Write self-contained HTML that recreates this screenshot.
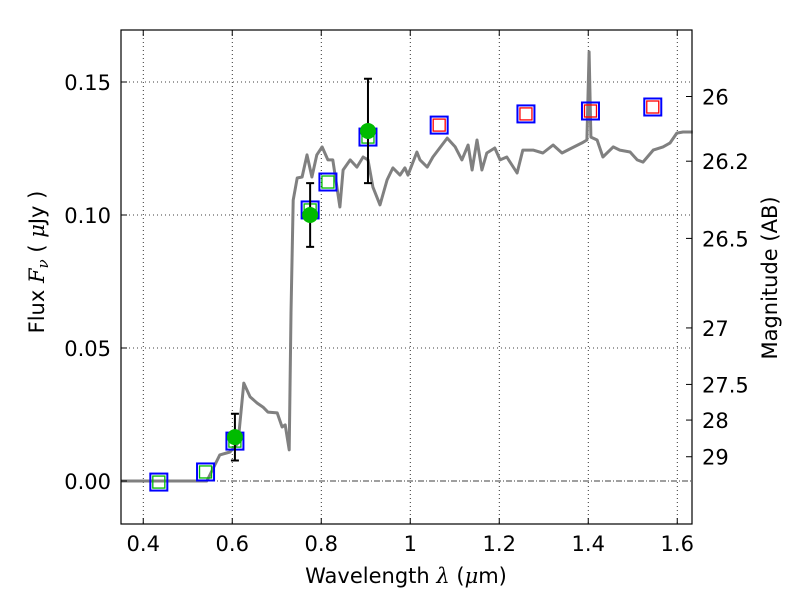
<!DOCTYPE html>
<html><head><meta charset="utf-8"><style>
html,body{margin:0;padding:0;background:#fff;overflow:hidden;width:800px;height:600px;}
svg{display:block;}
svg text{font-family:"DejaVu Sans","Liberation Sans",sans-serif;}
</style></head><body>
<svg id="chart" width="800" height="600" viewBox="0 0 800 600" xmlns="http://www.w3.org/2000/svg">
<rect x="0" y="0" width="800" height="600" fill="#fff"/>
<g id="grid"></g>
<g id="spec"></g>
<g id="phot"></g>
<g id="axes"></g>
<text x="406" y="583" font-size="21" text-anchor="middle">Wavelength  <tspan font-style="italic" font-family="DejaVu Serif, serif">λ</tspan> (<tspan font-style="italic" font-family="DejaVu Serif, serif">μ</tspan>m)</text>
<text transform="translate(44,262) rotate(-90)" font-size="21" text-anchor="middle">Flux  <tspan font-style="italic" font-family="DejaVu Serif, serif">F<tspan font-size="15" dy="4">ν</tspan></tspan><tspan dy="-4">  (  </tspan><tspan font-style="italic" font-family="DejaVu Serif, serif">μ</tspan>Jy )</text>
<text transform="translate(777,278) rotate(-90)" font-size="21" text-anchor="middle">Magnitude (AB)</text>
</svg>
<script>
const specLambda=[0.35,0.543,0.572,0.595,0.613,0.626,0.640,0.656,0.669,0.680,0.701,0.712,0.719,0.728,0.732,0.737,0.746,0.757,0.768,0.779,0.790,0.802,0.815,0.826,0.842,0.849,0.865,0.880,0.894,0.905,0.916,0.932,0.948,0.961,0.977,0.988,0.995,1.015,1.022,1.038,1.051,1.083,1.101,1.116,1.130,1.139,1.150,1.161,1.172,1.190,1.202,1.217,1.240,1.253,1.276,1.298,1.321,1.341,1.363,1.386,1.397,1.402,1.406,1.420,1.433,1.456,1.471,1.494,1.510,1.523,1.546,1.568,1.584,1.599,1.613,1.635];
const specFlux=[0,0,0.0098,0.0109,0.0143,0.0368,0.0316,0.0293,0.0278,0.0259,0.0256,0.0203,0.0211,0.0117,0.0632,0.1056,0.1139,0.1143,0.1226,0.1143,0.1226,0.1256,0.1207,0.1207,0.1030,0.1169,0.1207,0.1180,0.1218,0.1207,0.1105,0.1038,0.1132,0.1177,0.1150,0.1177,0.1150,0.1237,0.1207,0.1180,0.1218,0.1289,0.1256,0.1207,0.1263,0.1169,0.1282,0.1169,0.1233,0.1252,0.1207,0.1218,0.1158,0.1244,0.1244,0.1233,0.1263,0.1233,0.1252,0.1271,0.1282,0.1613,0.1293,0.1282,0.1218,0.1256,0.1244,0.1237,0.1207,0.1199,0.1244,0.1256,0.1271,0.1308,0.1312,0.1312];
const bandLambda=[0.435,0.54,0.606,0.775,0.815,0.905,1.065,1.26,1.405,1.545];
const modelFlux=[-0.0004,0.0034,0.0150,0.1019,0.1124,0.1293,0.1338,0.1380,0.1391,0.1406];
const modelObserved=[true,true,true,true,true,true,false,false,false,false];
const obsLambda=[0.606,0.775,0.905];
const obsFlux=[0.0165,0.100,0.1316];
const obsErr=[0.0088,0.012,0.0196];
const xTicks=[0.4,0.6,0.8,1.0,1.2,1.4,1.6];
const xTickLabels=["0.4","0.6","0.8","1","1.2","1.4","1.6"];
const yTicks=[0,0.05,0.10,0.15];
const yTickLabels=["0.00","0.05","0.10","0.15"];
const magTicks=[26,26.2,26.5,27,27.5,28,29];
const magTickLabels=["26","26.2","26.5","27","27.5","28","29"];

const L=121,R=692,T=30,B=524;
const xMin=0.35,xMax=0.35+(R-L)/445,yMin=-43/2660,yMax=(481-T)/2660;
const X=v=>L+(v-xMin)/(xMax-xMin)*(R-L);
const Y=v=>B-(v-yMin)/(yMax-yMin)*(B-T);
const NS="http://www.w3.org/2000/svg";
function mk(tag,attrs,parent){const e=document.createElementNS(NS,tag);for(const k in attrs)e.setAttribute(k,attrs[k]);parent.appendChild(e);return e;}
const grid=document.getElementById('grid'),spec=document.getElementById('spec'),phot=document.getElementById('phot'),axes=document.getElementById('axes');

xTicks.forEach((t,i)=>{const l=mk('line',{x1:X(t),x2:X(t),y1:T,y2:B,stroke:'#000','stroke-width':0.8,'stroke-dasharray':'1,3'},grid);

});
yTicks.forEach((t,i)=>{const l=mk('line',{x1:L,x2:R,y1:Y(t),y2:Y(t),stroke:'#000','stroke-width':0.8,'stroke-dasharray':t===0?'6,2,1,2':'1,3'},grid);

});

const d=specLambda.map((v,i)=>(i?'L':'M')+X(v).toFixed(1)+','+Y(specFlux[i]).toFixed(1)).join(' ');
const sp=mk('path',{d:d,fill:'none',stroke:'#808080','stroke-width':3,'stroke-linejoin':'round'},spec);



bandLambda.forEach((v,i)=>{const cx=X(v),cy=Y(modelFlux[i]);
const o=mk('rect',{x:cx-8.5,y:cy-8.5,width:17,height:17,fill:'none',stroke:'#0000ff','stroke-width':2},phot);


const n=mk('rect',{x:cx-6,y:cy-6,width:12,height:12,fill:'none',stroke:modelObserved[i]?'#00bb00':'#ff0000','stroke-width':1.3},phot);

});

obsLambda.forEach((v,i)=>{const cx=X(v),y1=Y(obsFlux[i]+obsErr[i]),y2=Y(obsFlux[i]-obsErr[i]);
const eb=mk('path',{d:`M${cx},${y1}L${cx},${y2}M${cx-4},${y1}L${cx+4},${y1}M${cx-4},${y2}L${cx+4},${y2}`,stroke:'#000','stroke-width':2,fill:'none'},phot);


const c=mk('circle',{cx:cx,cy:Y(obsFlux[i]),r:8,fill:'#00bb00'},phot);

});

const fr=mk('rect',{x:L,y:T,width:R-L,height:B-T,fill:'none',stroke:'#000','stroke-width':1.2},axes);


xTicks.forEach((t,i)=>{const x=X(t);
mk('line',{x1:x,x2:x,y1:B,y2:B-6,stroke:'#000'},axes);mk('line',{x1:x,x2:x,y1:T,y2:T+6,stroke:'#000'},axes);
const tx=mk('text',{x:x,y:B+27,'font-size':21,'text-anchor':'middle'},axes);tx.textContent=xTickLabels[i];

});
yTicks.forEach((t,i)=>{const y=Y(t);
mk('line',{x1:L,x2:L+6,y1:y,y2:y,stroke:'#000'},axes);
const tx=mk('text',{x:L-10,y:y+8,'font-size':21,'text-anchor':'end'},axes);tx.textContent=yTickLabels[i];

});
magTicks.forEach((m,i)=>{const y=Y(Math.pow(10,-0.4*(m-23.9)));
mk('line',{x1:R,x2:R-6,y1:y,y2:y,stroke:'#000'},axes);
const tx=mk('text',{x:R+10,y:y+8,'font-size':21},axes);tx.textContent=magTickLabels[i];

});
</script>
</body></html>
